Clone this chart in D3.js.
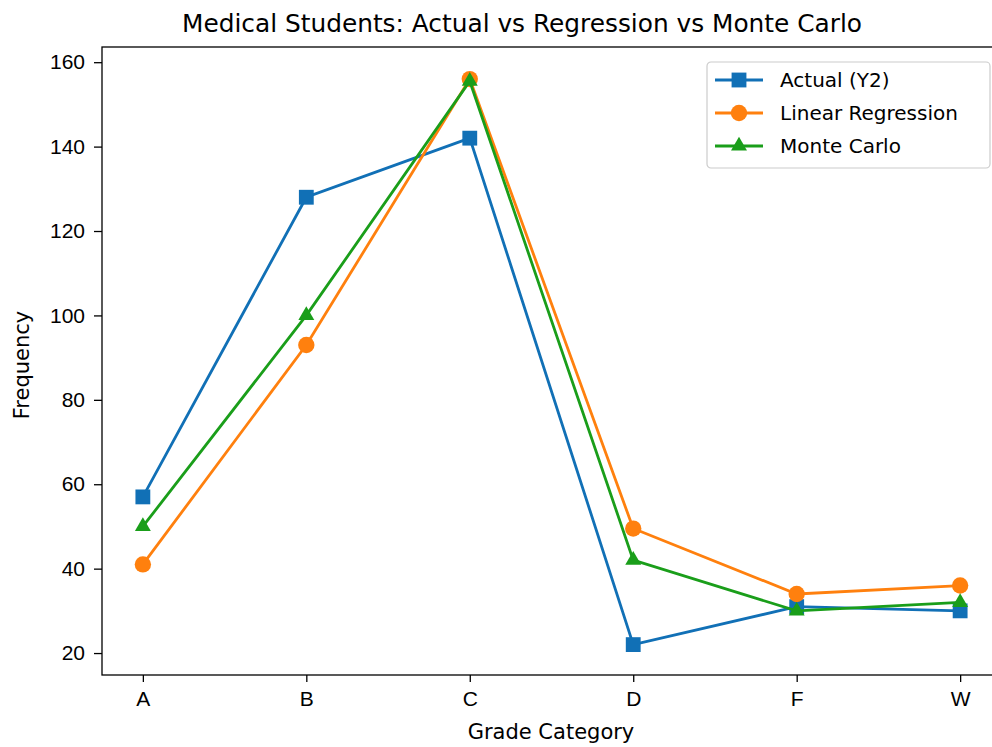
<!DOCTYPE html>
<meta charset="utf-8">
<style>
body { margin: 0; background: #fff; }
svg { font-family: "DejaVu Sans", sans-serif; }
.axis path, .axis line { stroke: #000; stroke-width: 1.3; }
.axis text { font-size: 21px; fill: #000; }
</style>
<body>
<script src="https://cdnjs.cloudflare.com/ajax/libs/d3/7.8.5/d3.min.js"></script>
<script>

var grades = ["A", "B", "C", "D", "F", "W"];
var actual = [57, 128, 142, 22, 31, 30];
var regression = [41, 93, 156, 49.5, 34, 36];
var monteCarlo = [50, 100, 155.5, 42, 30, 32];
var yTicks = [20, 40, 60, 80, 100, 120, 140, 160];

var series = [
  { name: "Actual (Y2)", values: actual, color: "#1170b6", symbol: d3.symbolSquare, size: 220 },
  { name: "Linear Regression", values: regression, color: "#ff800e", symbol: d3.symbolCircle, size: 210 },
  { name: "Monte Carlo", values: monteCarlo, color: "#1a9e1a", symbol: d3.symbolTriangle, size: 110 }
];

var width = 992, height = 747,
    plotLeft = 102, plotRight = 1001, plotTop = 47, plotBottom = 675;

var svg = d3.select("body").append("svg")
    .attr("width", width)
    .attr("height", height);

// matplotlib-style margins: 5% each side
var x = d3.scaleLinear().domain([-0.25, grades.length - 0.75]).range([plotLeft, plotRight]);
var y = d3.scaleLinear().domain([14.8, 163.6]).range([plotBottom, plotTop]);

var xAxis = d3.axisBottom(x)
    .tickValues(d3.range(grades.length))
    .tickFormat(function(i) { return grades[i]; })
    .tickSize(7).tickPadding(9);

var yAxis = d3.axisLeft(y)
    .tickValues(yTicks)
    .tickSize(8).tickPadding(9);

svg.append("g")
    .attr("class", "axis")
    .attr("transform", "translate(0," + plotBottom + ")")
    .call(xAxis)
    .call(function(g) { g.select(".domain").remove(); });

svg.append("g")
    .attr("class", "axis")
    .attr("transform", "translate(" + plotLeft + ",0)")
    .call(yAxis)
    .call(function(g) { g.select(".domain").remove(); });

svg.append("rect")
    .attr("x", plotLeft).attr("y", plotTop)
    .attr("width", plotRight - plotLeft).attr("height", plotBottom - plotTop)
    .attr("fill", "none").attr("stroke", "#000").attr("stroke-width", 1.3);

var line = d3.line()
    .x(function(d, i) { return x(i); })
    .y(function(d) { return y(d); });

series.forEach(function(s) {
  var g = svg.append("g");
  g.append("path")
      .datum(s.values)
      .attr("d", line)
      .attr("fill", "none")
      .attr("stroke", s.color)
      .attr("stroke-width", 2.8);
  g.selectAll("path.pt")
      .data(s.values)
    .enter().append("path")
      .attr("class", "pt")
      .attr("transform", function(d, i) { return "translate(" + x(i) + "," + y(d) + ")"; })
      .attr("d", d3.symbol().type(s.symbol).size(s.size))
      .attr("fill", s.color);
});

// title and axis labels
svg.append("text")
    .attr("x", 522).attr("y", 32)
    .attr("text-anchor", "middle")
    .attr("font-size", 24)
    .attr("textLength", 680)
    .attr("lengthAdjust", "spacingAndGlyphs")
    .text("Medical Students: Actual vs Regression vs Monte Carlo");

svg.append("text")
    .attr("x", 551).attr("y", 739)
    .attr("text-anchor", "middle")
    .attr("font-size", 21)
    .text("Grade Category");

svg.append("text")
    .attr("transform", "translate(29,365) rotate(-90)")
    .attr("text-anchor", "middle")
    .attr("font-size", 21)
    .text("Frequency");

// legend
var legend = svg.append("g").attr("transform", "translate(707,62)");
legend.append("rect")
    .attr("width", 283).attr("height", 106).attr("rx", 4)
    .attr("fill", "#fff").attr("stroke", "#ccc").attr("stroke-width", 1.2);

series.forEach(function(s, i) {
  var row = legend.append("g").attr("transform", "translate(0," + (18 + i * 33) + ")");
  row.append("line")
      .attr("x1", 8).attr("x2", 56)
      .attr("stroke", s.color).attr("stroke-width", 2.8);
  row.append("path")
      .attr("transform", "translate(32,0)")
      .attr("d", d3.symbol().type(s.symbol).size(s.size))
      .attr("fill", s.color);
  row.append("text")
      .attr("x", 73).attr("y", 7)
      .attr("font-size", 20)
      .text(s.name);
});

</script>
</body>
